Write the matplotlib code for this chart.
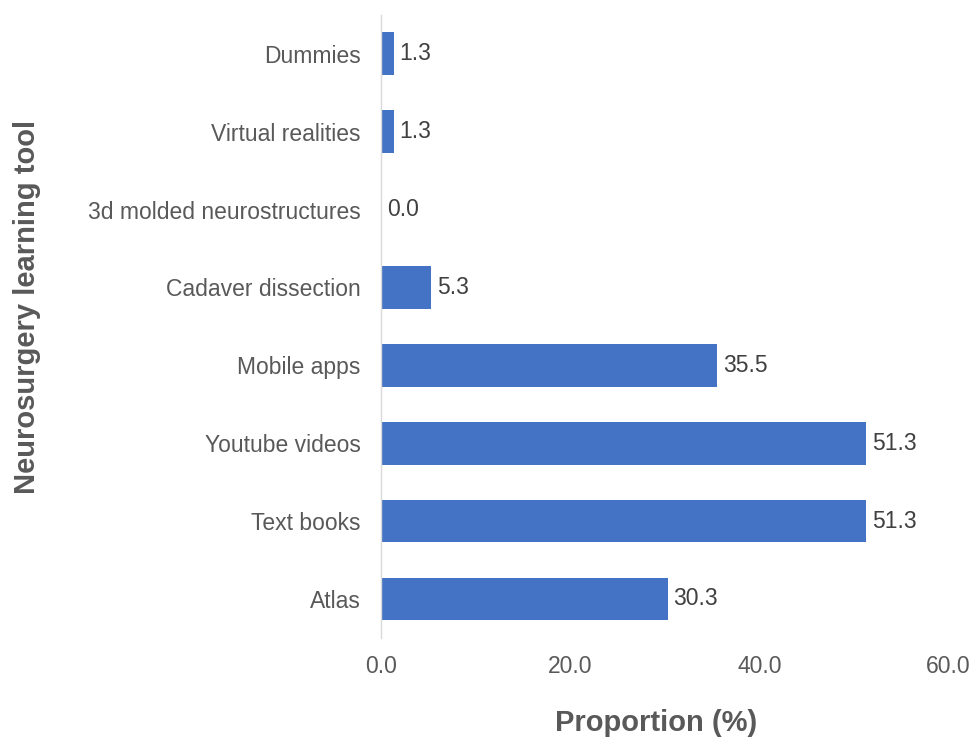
import numpy as np
import matplotlib
matplotlib.use("Agg")
import matplotlib.pyplot as plt

plt.rcParams['font.family'] = ['Liberation Sans', 'DejaVu Sans']

tools = ['Atlas', 'Text books', 'Youtube videos', 'Mobile apps',
         'Cadaver dissection', '3d molded neurostructures',
         'Virtual realities', 'Dummies']
proportion = [30.3, 51.3, 51.3, 35.5, 5.3, 0.0, 1.3, 1.3]
xticks = [0, 20, 40, 60]

bar_color = '#4472C4'
tick_color = '#595959'
label_color = '#404040'

fig = plt.figure(figsize=(9.75, 7.4), dpi=100)
ax = fig.add_axes([0.391, 0.138, 0.582, 0.842])

y = np.arange(len(tools))
ax.barh(y, proportion, height=0.55, color=bar_color)

for yi, v in zip(y, proportion):
    ax.text(v + 0.6, yi, f'{v:.1f}', va='center', ha='left',
            fontsize=16.5, color=label_color)

ax.set_xlim(0, 60)
ax.set_ylim(-0.5, len(tools) - 0.5)
ax.set_yticks(y)
ax.set_yticklabels(tools)
ax.set_xticks(xticks)
ax.set_xticklabels([f'{t:.1f}' for t in xticks])

ax.tick_params(axis='both', length=0, labelsize=16.5, colors=tick_color)
ax.tick_params(axis='y', pad=15)
ax.tick_params(axis='x', pad=12)

for side in ['top', 'right', 'bottom']:
    ax.spines[side].set_visible(False)
ax.spines['left'].set_color('#d9d9d9')
ax.spines['left'].set_linewidth(1)

# axis titles placed by hand, like the original
fig.text(0.673, 0.023, 'Proportion (%)', va='center', ha='center',
         fontsize=21, fontweight='bold', color=tick_color)
fig.text(0.028, 0.585, 'Neurosurgery learning tool',
         rotation=90, va='center', ha='center', fontsize=21,
         fontweight='bold', color=tick_color)

fig.savefig('out.png', dpi=100, facecolor='white')
